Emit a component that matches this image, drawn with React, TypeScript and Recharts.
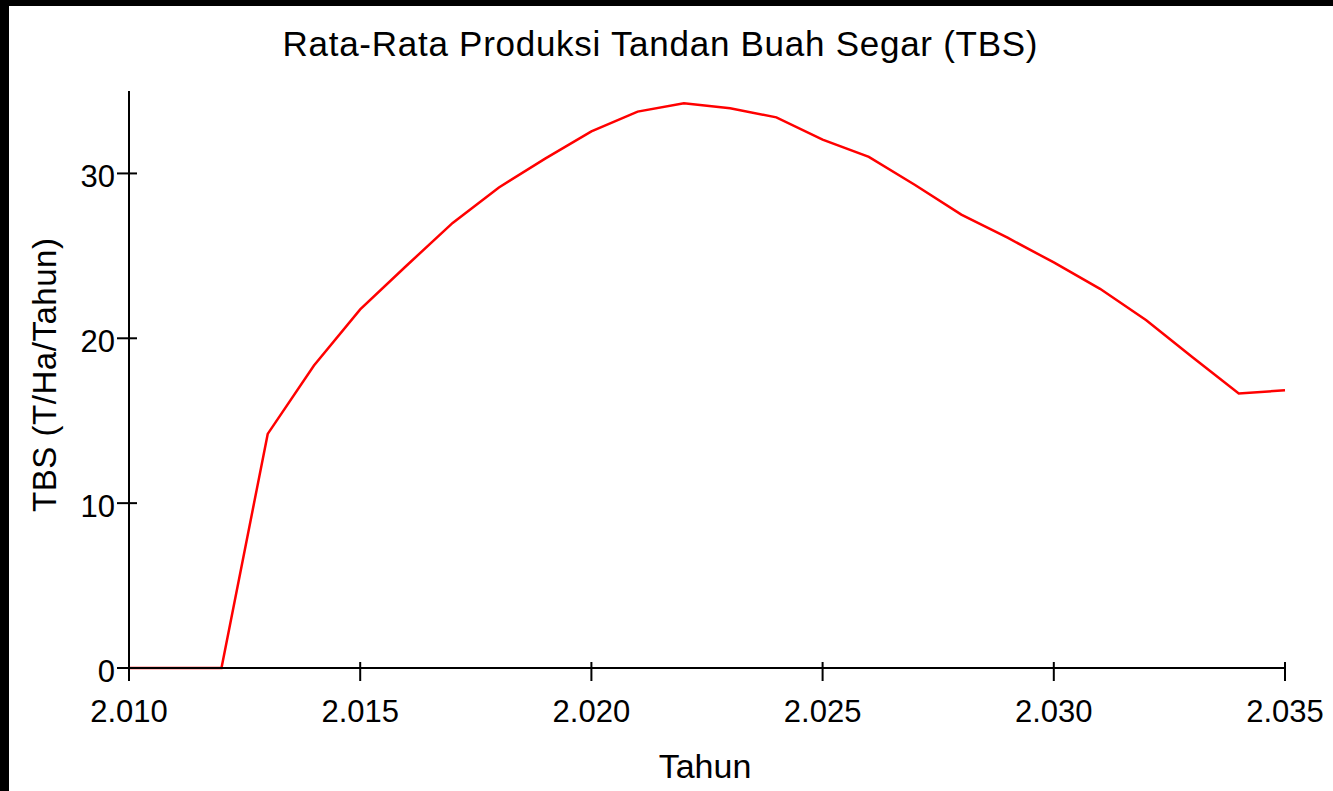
import React from 'react';
import { LineChart, Line, XAxis, YAxis } from 'recharts';

const years = [2010, 2011, 2012, 2013, 2014, 2015, 2016, 2017, 2018, 2019, 2020, 2021, 2022,
  2023, 2024, 2025, 2026, 2027, 2028, 2029, 2030, 2031, 2032, 2033, 2034, 2035];
const tbs = [0, 0, 0, 14.2, 18.35, 21.75, 24.4, 27.0, 29.15, 30.9, 32.55, 33.75, 34.25,
  33.95, 33.4, 32.05, 31.0, 29.3, 27.5, 26.1, 24.6, 23.0, 21.1, 18.85, 16.65, 16.85];
const xTicks = [2010, 2015, 2020, 2025, 2030, 2035];
const yTicks = [0, 10, 20, 30];

const title = 'Rata-Rata Produksi Tandan Buah Segar (TBS)';
const xTitle = 'Tahun';
const yTitle = 'TBS (T/Ha/Tahun)';

const FONT = '"Liberation Sans", Arial, sans-serif';

const data = years.map((y, i) => ({ year: y, tbs: tbs[i] }));

// 2010 -> "2.010"
const fmtYear = (v: number) => `${Math.floor(v / 1000)}.${String(v % 1000).padStart(3, '0')}`;

const XTick = ({ x, y, payload }: any) => (
  <g>
    <line x1={x} x2={x} y1={y - 6} y2={y + 13} stroke="#000" strokeWidth={2} />
    <text x={x} y={y + 54} textAnchor="middle" fontSize={31} fontFamily={FONT} fill="#000">
      {fmtYear(payload.value)}
    </text>
  </g>
);

const YTick = ({ x, y, payload }: any) => (
  <g>
    <line x1={x - 12} x2={x + 8} y1={y} y2={y} stroke="#000" strokeWidth={2} />
    <text x={x - 14} y={y + 14} textAnchor="end" fontSize={31} fontFamily={FONT} fill="#000">
      {payload.value}
    </text>
  </g>
);

export default function App() {
  return (
    <div style={{ position: 'absolute', left: 0, top: 0, width: 1333, height: 791, background: '#fff' }}>
      {/* black frame strips, top and left */}
      <div style={{ position: 'absolute', left: 0, top: 0, width: 1333, height: 6, background: '#000' }} />
      <div style={{ position: 'absolute', left: 0, top: 0, width: 9, height: 791, background: '#000' }} />
      <div style={{ position: 'absolute', left: 9, top: 6, width: 1324, height: 785 }}>
        <LineChart width={1324} height={785} data={data} margin={{ top: 85, right: 48, bottom: 0, left: 0 }}>
          <XAxis
            dataKey="year"
            type="number"
            domain={[2010, 2035]}
            ticks={xTicks}
            height={123}
            tickSize={0}
            tickMargin={0}
            tickLine={false}
            axisLine={{ stroke: '#000', strokeWidth: 2 }}
            tick={<XTick />}
          />
          <YAxis
            type="number"
            domain={[0, 35]}
            ticks={yTicks}
            width={120}
            tickSize={0}
            tickMargin={0}
            tickLine={false}
            axisLine={{ stroke: '#000', strokeWidth: 2 }}
            tick={<YTick />}
          />
          <Line
            type="linear"
            dataKey="tbs"
            stroke="#ff0000"
            strokeWidth={2.5}
            dot={false}
            activeDot={false}
            isAnimationActive={false}
          />
        </LineChart>
      </div>
      <svg width={1333} height={791} style={{ position: 'absolute', left: 0, top: 0, pointerEvents: 'none' }}>
        <text x={660} y={56} textAnchor="middle" fontSize={35} fontFamily={FONT} fill="#000"
          textLength={755} lengthAdjust="spacing">
          {title}
        </text>
        <text x={705} y={778} textAnchor="middle" fontSize={34} fontFamily={FONT} fill="#000">
          {xTitle}
        </text>
        <text transform="translate(56,375) rotate(-90)" textAnchor="middle" fontSize={33} fontFamily={FONT}
          fill="#000" textLength={274} lengthAdjust="spacing">
          {yTitle}
        </text>
      </svg>
    </div>
  );
}
